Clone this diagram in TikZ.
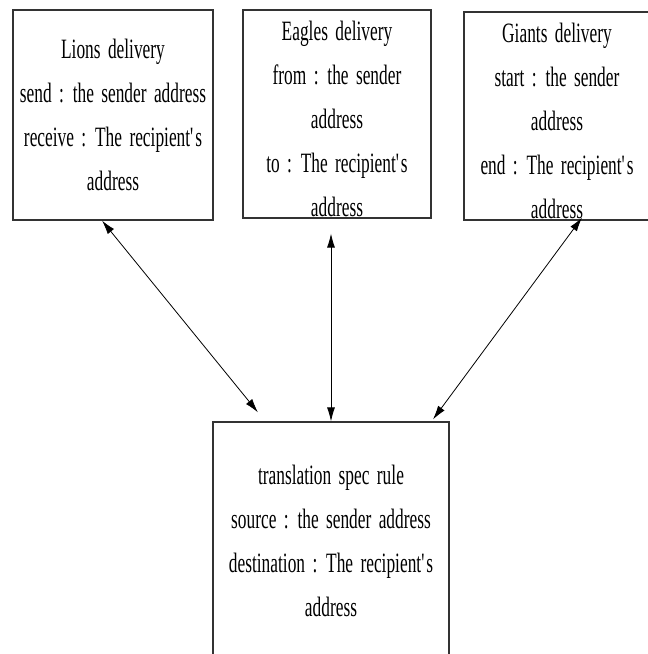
\documentclass[tikz,border=0pt]{standalone}
\usepackage{fontspec}
\setmainfont[FakeStretch=0.62, WordSpace=1.7]{Liberation Serif}
\usetikzlibrary{arrows.meta}

\tikzset{
    spec/.style={draw=black!80, line width=1.2pt, align=center, inner sep=0pt,
        font=\fontsize{28}{44}\selectfont},
    link/.style={{Latex[length=14pt,width=8pt]}-{Latex[length=14pt,width=8pt]}, line width=0.8pt}
}
\newcommand{\lowerby}{\rule{0pt}{30pt}}

\begin{document}
\begin{tikzpicture}[x=1pt, y=-1pt]
    \useasboundingbox (0,0) rectangle (648,654);
    \clip (0,0) rectangle (648,654);

    \node[spec, minimum width=200pt, minimum height=210pt] (lions) at (113,115)
        {Lions delivery\\send : the sender address\\receive : The recipient\textquotesingle s\\address};
    \node[spec, minimum width=188pt, minimum height=208pt] (eagles) at (337,114)
        {\lowerby Eagles delivery\\from : the sender\\address\\to : The recipient\textquotesingle s\\address};
    \node[spec, minimum width=186pt, minimum height=208pt] (giants) at (557,116)
        {\lowerby Giants delivery\\start : the sender\\address\\end : The recipient\textquotesingle s\\address};
    \node[spec, minimum width=236pt, minimum height=238pt] (rule) at (331,541)
        {translation spec rule\\source : the sender address\\destination : The recipient\textquotesingle s\\address};

    \draw[link] ([xshift=-11pt]lions.south) -- ([xshift=-73pt,yshift=9pt]rule.north);
    \draw[link] ([xshift=-6pt,yshift=-15pt]eagles.south) -- (rule.north);
    \draw[link] ([xshift=25pt,yshift=3pt]giants.south) -- ([xshift=102pt,yshift=2pt]rule.north);

\end{tikzpicture}
\end{document}
